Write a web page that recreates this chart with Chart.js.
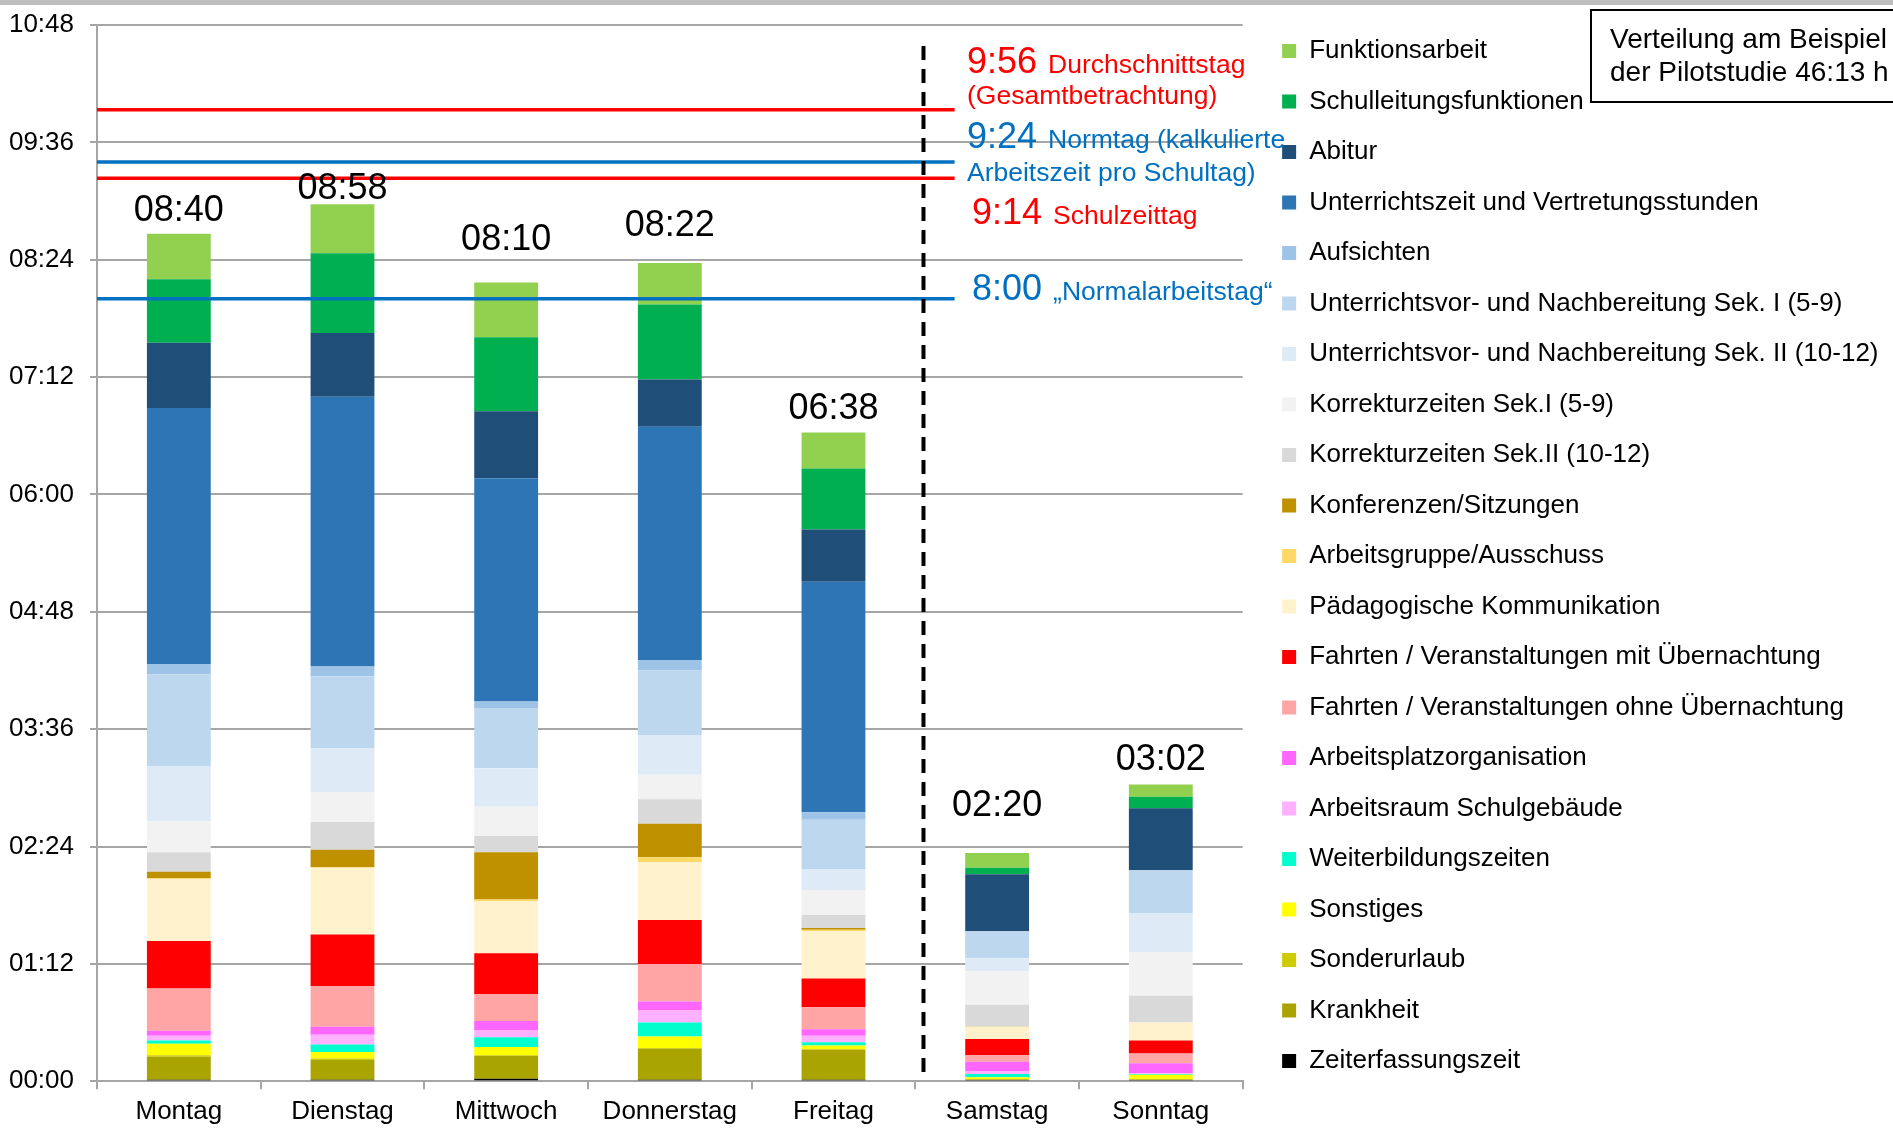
<!DOCTYPE html>
<html lang="de">
<head>
<meta charset="UTF-8">
<title>Verteilung der Arbeitszeit pro Wochentag</title>
<script src="https://cdn.jsdelivr.net/npm/chart.js"></script>
<style>
  html, body { margin: 0; padding: 0; background: #fff; }
  #chart { display: block; }
</style>
</head>
<body>
<canvas id="chart" width="1893" height="1131"></canvas>
<script>
// Wochentage (x-Achse)
const days = ['Montag', 'Dienstag', 'Mittwoch', 'Donnerstag', 'Freitag', 'Samstag', 'Sonntag'];
// Tagessummen in Minuten (08:40, 08:58, 08:10, 08:22, 06:38, 02:20, 03:02)
const totals = [520, 538, 490, 502, 398, 140, 182];

// Anteile in Minuten, Reihenfolge im Stapel von unten nach oben
const zeiterfassung   = [1, 1, 1.5, 1, 1, 1, 1];
const krankheit       = [14, 12, 14, 19, 18.5, 0, 0];
const sonderurlaub    = [1, 1, 0.5, 0.5, 0, 0, 0];
const sonstiges       = [7, 4, 5, 7, 2.5, 1.5, 3];
const weiterbildung   = [2, 4.5, 6, 8.5, 2, 2, 0.5];
const arbeitsraum     = [3, 6, 4.5, 7.5, 4, 1.5, 0.5];
const arbeitsplatz    = [3, 5, 5.5, 5.5, 4, 6, 6];
const fahrtenOhne     = [26, 25, 16.5, 23, 13.5, 4, 6];
const fahrtenMit      = [29, 31.5, 25, 27, 17.5, 10, 8];
const paedagogik      = [38, 41, 32, 35.5, 29, 7, 11];
const arbeitsgruppe   = [0.5, 0.5, 1, 3, 1, 0.5, 0];
const konferenzen     = [4, 10.5, 29, 20.5, 1, 0, 0];
const korrSek2        = [12, 17, 10, 15, 8, 13.5, 16.5];
const korrSek1        = [19, 18.5, 18, 15, 15, 20.5, 26.5];
const vorbereitSek2   = [34, 27, 23.5, 24.5, 13, 8, 24];
const vorbereitSek1   = [56, 44, 37, 39.5, 30.5, 16.5, 26.5];
const aufsichten      = [6.5, 6, 4, 6.5, 4.5, 0, 0];
const unterricht      = [157, 165.5, 137, 143, 141.5, 0, 0];
const abitur          = [40, 39, 41, 29, 32, 35, 38];
const schulleitung    = [39, 49, 45.5, 46, 37.5, 4, 7];
const funktion        = [28, 30, 33.5, 25.5, 22, 9, 7.5];

// Referenzlinien in Minuten: 9:56, 9:24, 9:14, 8:00
const refLines = [596, 564, 554, 480];

const red = '#ff0000';
const blue = '#0070c0';
const font = "'Liberation Sans', Arial, sans-serif";

const series = [
  ['Zeiterfassungszeit', zeiterfassung, '#000000'],
  ['Krankheit', krankheit, '#a9a400'],
  ['Sonderurlaub', sonderurlaub, '#cccc00'],
  ['Sonstiges', sonstiges, '#ffff00'],
  ['Weiterbildungszeiten', weiterbildung, '#00ffcc'],
  ['Arbeitsraum Schulgebäude', arbeitsraum, '#ffb0ff'],
  ['Arbeitsplatzorganisation', arbeitsplatz, '#ff66ff'],
  ['Fahrten / Veranstaltungen ohne Übernachtung', fahrtenOhne, '#ffa5a5'],
  ['Fahrten / Veranstaltungen mit Übernachtung', fahrtenMit, '#ff0000'],
  ['Pädagogische Kommunikation', paedagogik, '#fff2cc'],
  ['Arbeitsgruppe/Ausschuss', arbeitsgruppe, '#ffd966'],
  ['Konferenzen/Sitzungen', konferenzen, '#bf9000'],
  ['Korrekturzeiten Sek.II (10-12)', korrSek2, '#d9d9d9'],
  ['Korrekturzeiten Sek.I (5-9)', korrSek1, '#f2f2f2'],
  ['Unterrichtsvor- und Nachbereitung Sek. II (10-12)', vorbereitSek2, '#deebf7'],
  ['Unterrichtsvor- und Nachbereitung Sek. I (5-9)', vorbereitSek1, '#bdd7ee'],
  ['Aufsichten', aufsichten, '#9dc3e6'],
  ['Unterrichtszeit und Vertretungsstunden', unterricht, '#2e75b6'],
  ['Abitur', abitur, '#1f4e79'],
  ['Schulleitungsfunktionen', schulleitung, '#00b050'],
  ['Funktionsarbeit', funktion, '#92d050']
];

function hhmm(min) {
  const h = Math.floor(min / 60), m = Math.round(min % 60);
  return String(h).padStart(2, '0') + ':' + String(m).padStart(2, '0');
}

// Abstand Summenbeschriftung -> Balkenoberkante (im Original frei gesetzt)
const labelGap = [13, 5, 33, 27, 14, 37, 15];

// Texte rechts neben den Referenzlinien
const notes = [
  { big: '9:56', small: 'Durchschnittstag', x: 967, y: 73, color: red },
  { small: '(Gesamtbetrachtung)', x: 967, y: 104, color: red },
  { big: '9:24', small: 'Normtag (kalkulierte', x: 967, y: 148, color: blue },
  { small: 'Arbeitszeit pro Schultag)', x: 967, y: 181, color: blue },
  { big: '9:14', small: 'Schulzeittag', x: 972, y: 224, color: red },
  { big: '8:00', small: '\u201eNormalarbeitstag\u201c', x: 972, y: 300, color: blue }
];

const decor = {
  id: 'decor',
  afterLayout(chart) {
    // Legende wie im Original etwas weiter rechts und höher
    const lg = chart.legend;
    lg.left += 15;
    lg.right += 15;
    lg.top -= 11.5;
    lg.bottom -= 11.5;
  },
  beforeDraw(chart) {
    const ctx = chart.ctx;
    ctx.save();
    ctx.fillStyle = '#fff';
    ctx.fillRect(0, 0, chart.width, chart.height);
    ctx.fillStyle = '#bfbfbf';
    ctx.fillRect(0, 0, chart.width, 5);
    ctx.restore();
  },
  afterDatasetsDraw(chart) {
    const ctx = chart.ctx;
    const x = chart.scales.x, y = chart.scales.y;
    const area = chart.chartArea;
    const lineEnd = x.getPixelForValue(4.74);
    ctx.save();

    // Referenzlinien
    const lineColors = [red, blue, red, blue];
    refLines.forEach((v, i) => {
      const py = y.getPixelForValue(v);
      ctx.strokeStyle = lineColors[i];
      ctx.lineWidth = 3.5;
      ctx.beginPath();
      ctx.moveTo(area.left, py);
      ctx.lineTo(lineEnd, py);
      ctx.stroke();
    });

    // gestrichelte Trennung Werktage / Wochenende
    const dx = x.getPixelForValue(4.55);
    ctx.strokeStyle = '#000';
    ctx.lineWidth = 4;
    ctx.setLineDash([14, 9]);
    ctx.beginPath();
    ctx.moveTo(dx, area.top + 21);
    ctx.lineTo(dx, area.bottom - 8);
    ctx.stroke();
    ctx.setLineDash([]);

    // Tagessummen
    ctx.fillStyle = '#000';
    ctx.font = '36px ' + font;
    ctx.textAlign = 'center';
    ctx.textBaseline = 'alphabetic';
    totals.forEach((t, i) => {
      ctx.fillText(hhmm(t), x.getPixelForValue(i), y.getPixelForValue(t) - labelGap[i]);
    });

    // Beschriftung der Referenzlinien
    ctx.textAlign = 'left';
    notes.forEach(n => {
      ctx.fillStyle = n.color;
      let px = n.x;
      if (n.big) {
        ctx.font = '36px ' + font;
        ctx.fillText(n.big, px, n.y);
        px += ctx.measureText(n.big).width + 11;
      }
      ctx.font = '26.5px ' + font;
      ctx.fillText(n.small, px, n.y);
    });

    // Kasten oben rechts
    ctx.strokeStyle = '#000';
    ctx.lineWidth = 2;
    ctx.strokeRect(1591, 10, 400, 92);
    ctx.fillStyle = '#000';
    ctx.font = '28px ' + font;
    ctx.fillText('Verteilung am Beispiel', 1610, 48);
    ctx.fillText('der Pilotstudie 46:13 h', 1610, 81);
    ctx.restore();
  }
};

const datasets = series.map(s => ({
  label: s[0],
  data: s[1],
  backgroundColor: s[2],
  borderWidth: 0,
  barPercentage: 0.39,
  categoryPercentage: 1.0
}));

new Chart(document.getElementById('chart'), {
  type: 'bar',
  data: { labels: days, datasets: datasets },
  plugins: [decor],
  options: {
    responsive: false,
    animation: false,
    devicePixelRatio: 1,
    layout: { padding: { left: 9, right: 19.5, top: 25, bottom: -2.5 } },
    plugins: {
      tooltip: { enabled: false },
      legend: {
        position: 'right',
        align: 'start',
        reverse: true,
        maxWidth: 700,
        labels: {
          boxWidth: 14,
          boxHeight: 14,
          padding: 24.5,
          color: '#000',
          font: { family: font, size: 26 }
        }
      }
    },
    scales: {
      x: {
        stacked: true,
        grid: { drawOnChartArea: false, offset: true, tickLength: 8, color: '#a6a6a6', lineWidth: 2 },
        border: { color: '#a6a6a6', width: 2 },
        ticks: { color: '#000', padding: 6.5, font: { family: font, size: 26 } }
      },
      y: {
        stacked: true,
        min: 0,
        max: 648,
        afterFit(scale) {
          scale.width = 88;
          scale.paddingTop = 0;
        },
        grid: { color: '#a6a6a6', lineWidth: 2, tickLength: 7 },
        border: { color: '#a6a6a6', width: 2 },
        ticks: {
          stepSize: 72,
          color: '#000',
          padding: 16,
          font: { family: font, size: 26 },
          callback: v => hhmm(v)
        }
      }
    }
  }
});
</script>
</body>
</html>
